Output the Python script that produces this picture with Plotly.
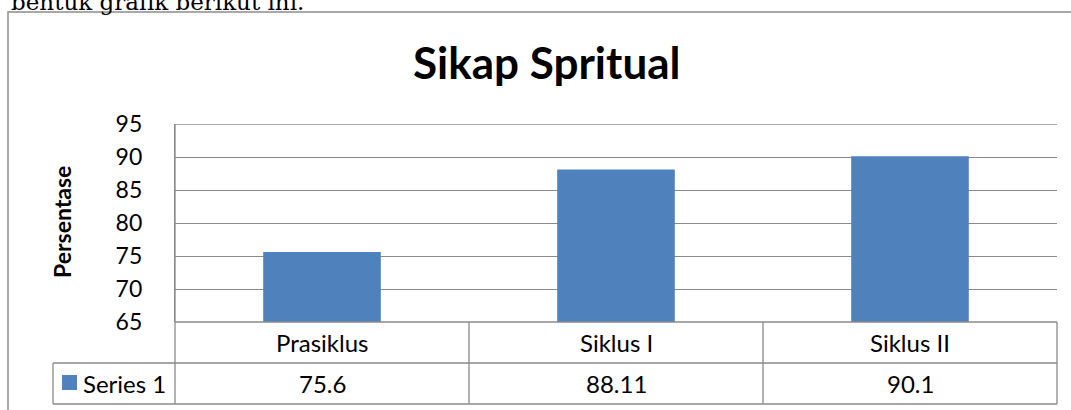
import plotly.graph_objects as go

categories = ["Prasiklus", "Siklus I", "Siklus II"]
values = [75.6, 88.11, 90.1]
series_name = "Series 1"
y_ticks = [65, 70, 75, 80, 85, 90, 95]
title_text = "Sikap Spritual"
y_title = "Persentase"
header_text = "bentuk grafik berikut ini."

W, H = 1071, 410
L, R, T, B = 175, 1057, 124, 322  # plot area pixels
BAR = "#4F81BD"
GRID = "#8A8A8A"
FONT = "Lato"

def px(xp):
    return (xp - L) / (R - L)

def py(yp):
    return (B - yp) / (B - T)

fig = go.Figure(go.Bar(x=categories, y=values, marker=dict(color=BAR, line=dict(width=0)),
                       name=series_name, showlegend=False))

row1, row2 = 363, 404
shapes = []
line = dict(color=GRID, width=1.3)
# chart outer border
shapes.append(dict(type="rect", xref="paper", yref="paper", x0=px(8), x1=px(1080), y0=py(420), y1=py(12), line=dict(color="#8C8C8C", width=1.5)))
# top gridline of plot area (95)
shapes.append(dict(type="line", xref="paper", yref="y", x0=0, x1=1, y0=y_ticks[-1], y1=y_ticks[-1], line=line))
# table horizontal lines
shapes.append(dict(type="line", xref="paper", yref="paper", x0=0, x1=1, y0=0, y1=0, line=line))
shapes.append(dict(type="line", xref="paper", yref="paper", x0=px(53), x1=1, y0=py(row1), y1=py(row1), line=line))
shapes.append(dict(type="line", xref="paper", yref="paper", x0=px(53), x1=1, y0=py(row2), y1=py(row2), line=line))
# vertical lines
shapes.append(dict(type="line", xref="paper", yref="paper", x0=0, x1=0, y0=1, y1=py(row2), line=line))
shapes.append(dict(type="line", xref="paper", yref="paper", x0=px(53), x1=px(53), y0=py(row1), y1=py(row2), line=line))
shapes.append(dict(type="line", xref="paper", yref="paper", x0=1, x1=1, y0=0, y1=py(row2), line=line))
for i in range(len(categories) - 1):
    shapes.append(dict(type="line", xref="x", yref="paper", x0=i + 0.5, x1=i + 0.5, y0=0, y1=py(row2), line=line))
# legend key
shapes.append(dict(type="rect", xref="paper", yref="paper", x0=px(62), x1=px(77), y0=py(390), y1=py(375), line=dict(width=0), fillcolor=BAR))

annotations = []
for c, v in zip(categories, values):
    annotations.append(dict(x=c, y=py((B + row1) / 2), xref="x", yref="paper", text=c, showarrow=False,
                            font=dict(family=FONT, size=24, color="#000"), xanchor="center", yanchor="middle"))
    annotations.append(dict(x=c, y=py((row1 + row2) / 2), xref="x", yref="paper", text=str(v), showarrow=False,
                            font=dict(family=FONT, size=24, color="#000"), xanchor="center", yanchor="middle"))
annotations.append(dict(x=px(81), y=py((row1 + row2) / 2), xref="paper", yref="paper", text=series_name, showarrow=False,
                        font=dict(family=FONT, size=24, color="#000"), xanchor="left", yanchor="middle"))
annotations.append(dict(x=px(547), y=py(62), xref="paper", yref="paper", text="<b>" + title_text + "</b>", showarrow=False,
                        font=dict(family=FONT, size=44, color="#000"), xanchor="center", yanchor="middle"))
annotations.append(dict(x=px(62), y=py(222), xref="paper", yref="paper", text="<b>" + y_title + "</b>", showarrow=False,
                        textangle=-90, font=dict(family=FONT, size=23, color="#000"), xanchor="center", yanchor="middle"))
annotations.append(dict(x=px(9), y=py(2), xref="paper", yref="paper", text=header_text, showarrow=False,
                        font=dict(family="DejaVu Serif", size=23, color="#000"), xanchor="left", yanchor="middle"))

fig.update_layout(
    width=W, height=H,
    margin=dict(l=L, r=W - R, t=T, b=H - B, pad=0),
    paper_bgcolor="white", plot_bgcolor="white",
    bargap=0.6,
    shapes=shapes, annotations=annotations,
    xaxis=dict(showticklabels=False, showgrid=False, zeroline=False, showline=False, ticks=""),
    yaxis=dict(range=[65, 95], tickvals=y_ticks, showgrid=True, gridcolor=GRID, gridwidth=1.3,
               showline=True, linecolor=GRID, linewidth=1.3, zeroline=False, ticks="",
               ticklabelstandoff=27, tickfont=dict(family=FONT, size=23, color="#000")),
    font=dict(family=FONT),
)

fig.write_html("out.html", config={"displayModeBar": False},
               post_script="document.body.style.margin='0';")
